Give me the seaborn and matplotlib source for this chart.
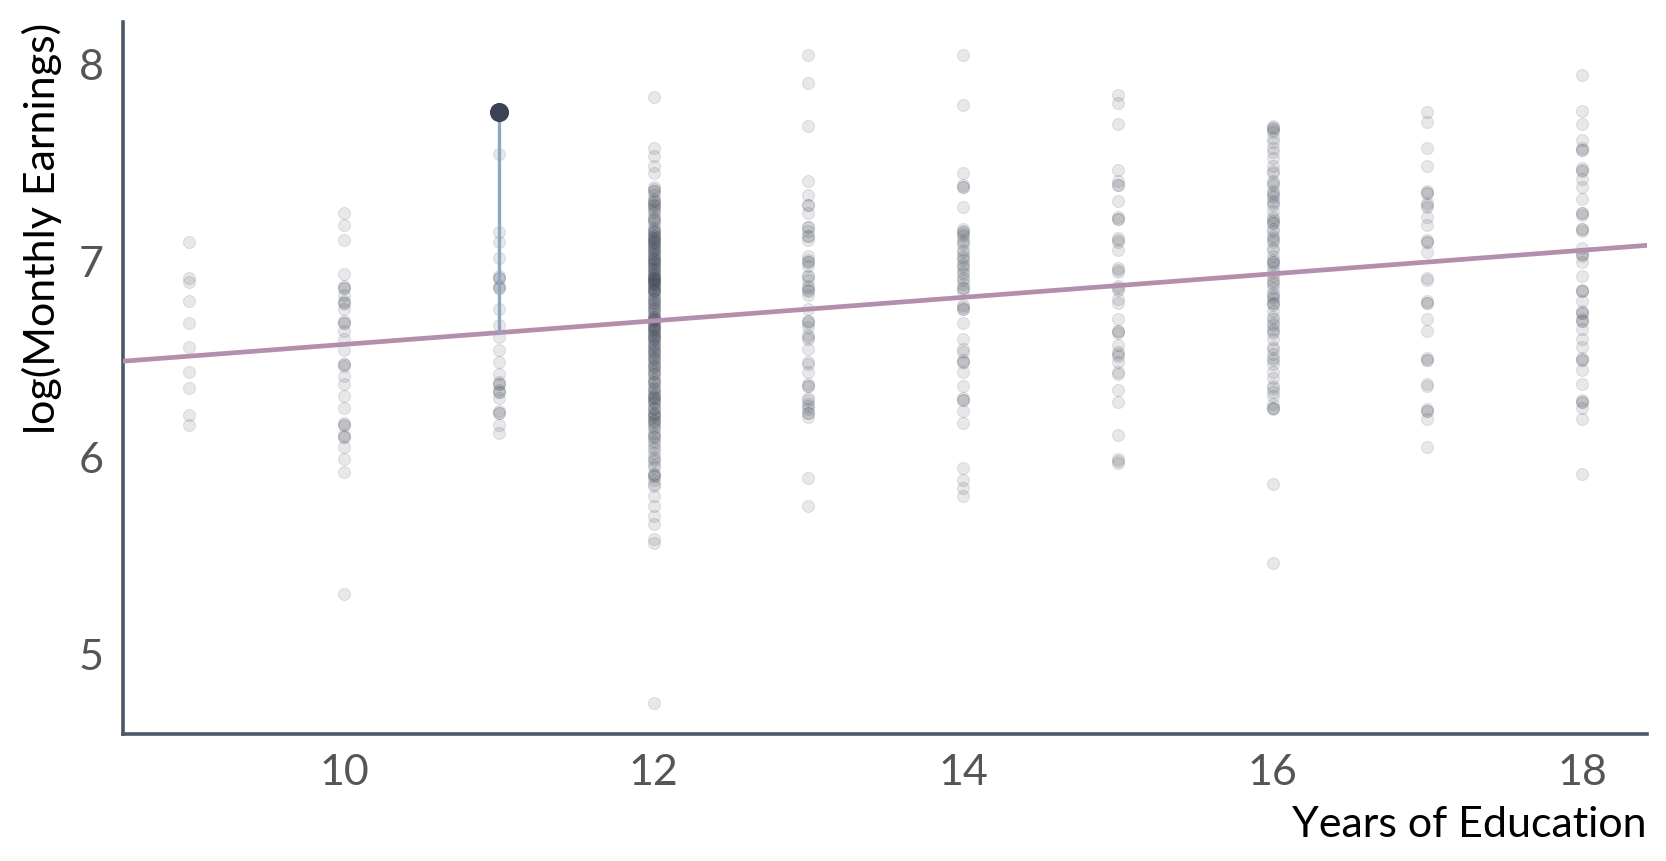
#!/usr/bin/env python3
"""
Log monthly earnings vs years of education, with one residual highlighted
"""

import numpy as np
import pandas as pd
import matplotlib
matplotlib.use("Agg")
import matplotlib.pyplot as plt
import seaborn as sns

# -------------------------------
# Data
# -------------------------------

educ_levels = [9, 10, 11, 12, 13, 14, 15, 16, 17, 18]

lwage_9 = [7.09, 6.91, 6.89, 6.79, 6.68, 6.56, 6.43, 6.35, 6.21, 6.16]
lwage_10 = [7.24, 7.18, 7.10, 6.93, 6.87, 6.86, 6.82, 6.79, 6.78, 6.75, 6.68, 6.69,
            6.64, 6.60, 6.54, 6.46, 6.47, 6.41, 6.37, 6.31, 6.25, 6.17, 6.16, 6.10,
            6.11, 6.05, 5.99, 5.92, 5.30,
            6.86, 6.78, 6.68, 6.47, 6.16, 6.10]
lwage_11 = [7.54, 7.14, 7.09, 7.01, 6.92, 6.91, 6.86, 6.87, 6.75, 6.67, 6.61, 6.54,
            6.48, 6.42, 6.37, 6.38, 6.33, 6.34, 6.30, 6.22, 6.23, 6.16, 6.12,
            6.91, 6.86, 6.37, 6.33, 6.22]
lwage_12 = [7.83, 7.57, 7.53, 7.48, 7.44, 7.37, 7.36, 7.35, 7.30, 7.28, 7.27, 7.25,
            7.21, 7.20, 7.17, 7.15, 7.14, 7.12, 7.11, 7.10, 7.09, 7.07, 7.06, 7.05,
            7.03, 7.01, 7.00, 6.99, 6.98, 6.96, 6.95, 6.93, 6.92, 6.91, 6.90, 6.89,
            6.88, 6.87, 6.85, 6.84, 6.82, 6.80, 6.78, 6.77, 6.75, 6.73, 6.71, 6.70,
            6.69, 6.67, 6.66, 6.65, 6.64, 6.62, 6.61, 6.60, 6.58, 6.57, 6.55, 6.53,
            6.52, 6.50, 6.48, 6.46, 6.44, 6.42, 6.40, 6.38, 6.35, 6.33, 6.31, 6.30,
            6.28, 6.25, 6.22, 6.21, 6.20, 6.18, 6.17, 6.14, 6.11, 6.08, 6.04, 6.00,
            5.98, 5.95, 5.91, 5.90, 5.85, 5.80, 5.75, 5.70, 5.66, 5.58, 5.56, 4.75,
            7.35, 7.33, 7.31, 7.29, 7.26, 7.24, 7.22, 7.19, 7.16, 7.13, 7.12, 7.11,
            7.09, 7.08, 7.06, 7.04, 7.02, 7.01, 7.00, 6.98, 6.97, 6.95, 6.94, 6.92,
            6.91, 6.90, 6.89, 6.88, 6.86, 6.85, 6.83, 6.81, 6.79, 6.76, 6.74, 6.72,
            6.70, 6.69, 6.68, 6.66, 6.64, 6.63, 6.61, 6.59, 6.56, 6.54, 6.51, 6.49,
            6.47, 6.45, 6.43, 6.39, 6.37, 6.34, 6.32, 6.30, 6.29, 6.27, 6.24, 6.22,
            6.19, 6.16, 6.12, 6.10, 6.07, 6.02, 5.99, 5.96, 5.91, 5.88,
            7.30, 7.28, 7.21, 7.15, 7.10, 7.08, 7.05, 7.03, 6.99, 6.96, 6.93, 6.91,
            6.90, 6.88, 6.86, 6.84, 6.80, 6.78, 6.75, 6.71, 6.70, 6.67, 6.65, 6.62,
            6.60, 6.57, 6.53, 6.50, 6.46, 6.42, 6.38, 6.35, 6.31, 6.28, 6.25, 6.21,
            6.18, 6.15, 6.10, 6.05, 5.90, 5.86]
lwage_13 = [8.04, 7.90, 7.68, 7.40, 7.33, 7.28, 7.24, 7.17, 7.15, 7.12, 7.10, 7.00,
            6.99, 6.97, 6.92, 6.90, 6.86, 6.85, 6.82, 6.75, 6.69, 6.68, 6.62, 6.61,
            6.55, 6.48, 6.43, 6.37, 6.36, 6.29, 6.27, 6.24, 6.22, 6.20, 5.89, 5.75,
            7.28, 7.17, 7.12, 7.02, 6.99, 6.92, 6.87, 6.84, 6.69, 6.66, 6.60, 6.47,
            6.36, 6.30, 6.26, 6.22]
lwage_14 = [8.04, 7.79, 7.44, 7.38, 7.37, 7.27, 7.16, 7.14, 7.12, 7.10, 7.08, 7.04,
            7.02, 7.00, 6.98, 6.96, 6.93, 6.91, 6.88, 6.86, 6.84, 6.76, 6.75, 6.68,
            6.60, 6.53, 6.49, 6.48, 6.43, 6.36, 6.30, 6.29, 6.23, 6.17, 5.94, 5.88,
            5.84, 5.80,
            7.37, 7.15, 7.13, 7.09, 7.05, 7.01, 6.97, 6.94, 6.90, 6.86, 6.77, 6.75,
            6.55, 6.48, 6.29]
lwage_15 = [7.84, 7.80, 7.69, 7.46, 7.40, 7.38, 7.30, 7.22, 7.21, 7.11, 7.09, 7.05,
            6.96, 6.94, 6.87, 6.85, 6.80, 6.78, 6.70, 6.64, 6.63, 6.57, 6.53, 6.51,
            6.48, 6.42, 6.34, 6.28, 6.11, 5.99, 5.97,
            7.38, 7.21, 7.10, 6.95, 6.86, 6.64, 6.52, 6.43, 5.98]
lwage_16 = [7.68, 7.67, 7.65, 7.62, 7.57, 7.52, 7.48, 7.44, 7.40, 7.38, 7.34, 7.33,
            7.30, 7.28, 7.22, 7.20, 7.19, 7.15, 7.11, 7.10, 7.05, 7.00, 6.99, 6.98,
            6.94, 6.90, 6.88, 6.82, 6.81, 6.78, 6.77, 6.71, 6.68, 6.64, 6.63, 6.56,
            6.50, 6.49, 6.43, 6.36, 6.35, 6.31, 6.25, 6.24, 5.86, 5.46,
            7.67, 7.66, 7.60, 7.55, 7.45, 7.39, 7.35, 7.32, 7.29, 7.25, 7.21, 7.19,
            7.16, 7.12, 7.09, 7.06, 7.02, 6.99, 6.96, 6.92, 6.89, 6.86, 6.83, 6.80,
            6.78, 6.74, 6.70, 6.67, 6.65, 6.60, 6.55, 6.52, 6.47, 6.40, 6.33, 6.27,
            6.25]
lwage_17 = [7.75, 7.70, 7.57, 7.48, 7.35, 7.34, 7.29, 7.27, 7.22, 7.18, 7.10, 7.09,
            7.04, 6.91, 6.90, 6.79, 6.78, 6.70, 6.64, 6.50, 6.49, 6.37, 6.36, 6.24,
            6.23, 6.19, 6.05,
            7.34, 7.28, 7.09, 6.78, 6.49, 6.23]
lwage_18 = [7.94, 7.76, 7.69, 7.61, 7.57, 7.56, 7.47, 7.45, 7.41, 7.37, 7.31, 7.24,
            7.23, 7.16, 7.15, 7.06, 7.03, 7.02, 6.99, 6.92, 6.85, 6.84, 6.79, 6.74,
            6.73, 6.70, 6.69, 6.65, 6.60, 6.56, 6.50, 6.49, 6.44, 6.37, 6.29, 6.28,
            6.25, 6.19, 5.91,
            7.56, 7.46, 7.24, 7.16, 7.03, 6.84, 6.73, 6.69, 6.49, 6.28]

# fitted OLS line: lwage = b0 + b1 * educ
b0 = 5.973
b1 = 0.0598

# highlighted observation
hl_educ = 11
hl_lwage = 7.75

x_ticks = [10, 12, 14, 16, 18]
y_ticks = [5, 6, 7, 8]

# -------------------------------
# Colours
# -------------------------------
DARK = "#3B4252"
PURPLE = "#B48EAD"
BLUE = "#8FA5C4"
TICK_GREY = "#555555"


def build_frame():
    groups = [lwage_9, lwage_10, lwage_11, lwage_12, lwage_13,
              lwage_14, lwage_15, lwage_16, lwage_17, lwage_18]
    rows = []
    for educ, vals in zip(educ_levels, groups):
        for v in vals:
            rows.append((educ, v))
    return pd.DataFrame(rows, columns=["educ", "lwage"])


def main():
    df = build_frame()

    sns.set_theme(style="white")
    plt.rcParams["font.family"] = ["Lato", "DejaVu Sans"]

    fig = plt.figure(figsize=(16.66, 8.62), dpi=100)
    ax = fig.add_axes([0.0738, 0.1473, 0.9148, 0.826])

    # all observations, faint
    sns.scatterplot(data=df, x="educ", y="lwage", ax=ax, color=DARK, alpha=0.12,
                    s=75, edgecolor=DARK, linewidth=0.8, legend=False, zorder=2)

    # regression line
    ax.axline((0, b0), slope=b1, color=PURPLE, lw=3.4, zorder=3)

    # residual for highlighted point
    fitted = b0 + b1 * hl_educ
    ax.plot([hl_educ, hl_educ], [fitted, hl_lwage], color=BLUE, lw=2.4, zorder=4)
    ax.scatter([hl_educ], [hl_lwage], s=190, color=DARK, zorder=5, linewidths=0)

    ax.set_xlim(8.57, 18.42)
    ax.set_ylim(4.59, 8.21)
    ax.set_xticks(x_ticks)
    ax.set_yticks(y_ticks)
    ax.tick_params(axis="both", length=0, labelsize=31, labelcolor=TICK_GREY)
    ax.tick_params(axis="x", pad=14)
    ax.tick_params(axis="y", pad=14)

    for side in ["top", "right"]:
        ax.spines[side].set_visible(False)
    for side in ["left", "bottom"]:
        ax.spines[side].set_color("#4C566A")
        ax.spines[side].set_linewidth(2.6)

    ax.set_xlabel("Years of Education", loc="right", fontsize=31, color="black",
                  labelpad=10)
    ax.set_ylabel("log(Monthly Earnings)", loc="top", fontsize=31, color="black",
                  labelpad=12)

    fig.savefig("out.png", dpi=100, facecolor="white")


if __name__ == "__main__":
    main()
